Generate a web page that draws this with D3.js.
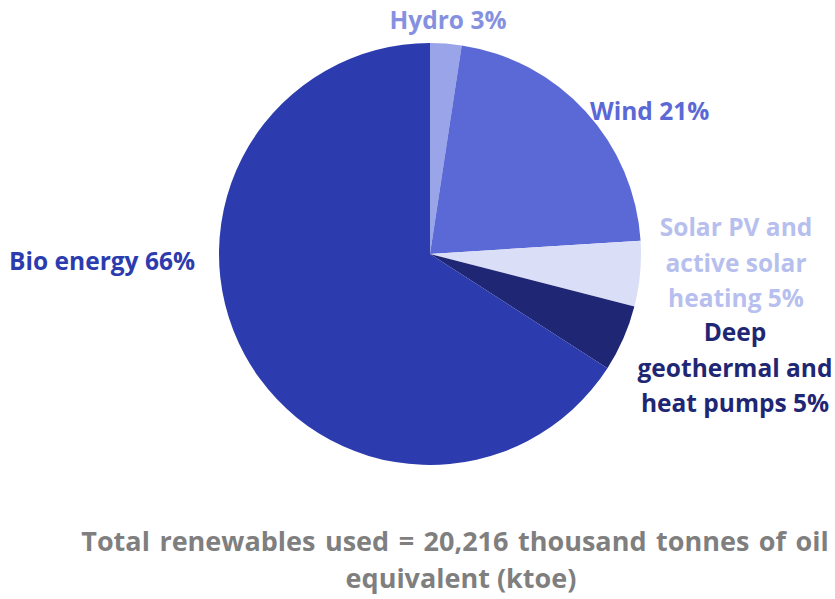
<!DOCTYPE html>
<html>
<head>
<meta charset="utf-8">
<script src="https://cdn.jsdelivr.net/npm/d3@7"></script>
<style>
  html, body { margin: 0; padding: 0; background: #ffffff; }
  svg { display: block; }
  text { font-family: "Open Sans", "Lato", sans-serif; font-weight: 700; }
</style>
</head>
<body>
<svg id="chart" width="835" height="599"></svg>
<script>
// Data (share of total renewables used, %)
const categories = ["Hydro", "Wind", "Solar PV and active solar heating", "Deep geothermal and heat pumps", "Bio energy"];
const values = [2.4, 21.6, 5.0, 5.1, 65.9];
const labelLines = [
  ["Hydro 3%"],
  ["Wind 21%"],
  ["Solar PV and", "active solar", "heating 5%"],
  ["Deep", "geothermal and", "heat pumps 5%"],
  ["Bio energy 66%"]
];
const sliceColors = ["#9aa4e8", "#5a69d5", "#dadef6", "#1f2774", "#2c3cae"];
const labelColors = ["#8591e0", "#5a69d5", "#b7bfee", "#1f2774", "#2c3cae"];
const footnote = ["Total renewables used = 20,216 thousand tonnes of oil", "equivalent (ktoe)"];

const svg = d3.select("#chart");
const cx = 430, cy = 254, r = 211;

const pie = d3.pie().sort(null).value(d => d)(values);
const arc = d3.arc().innerRadius(0).outerRadius(r);

const g = svg.append("g").attr("transform", `translate(${cx},${cy})`);
g.selectAll("path").data(pie).join("path")
  .attr("d", arc)
  .attr("fill", (d, i) => sliceColors[i]);

// Label anchors (positioned outside slices)
const labelPos = [
  { x: 448, y: 29, anchor: "middle" },
  { x: 590, y: 120, anchor: "start" },
  { x: 736, y: 236, anchor: "middle" },
  { x: 735, y: 341, anchor: "middle" },
  { x: 195, y: 270, anchor: "end" }
];
const lineH = 35.5;
labelLines.forEach((lines, i) => {
  const p = labelPos[i];
  const t = svg.append("text")
    .attr("x", p.x).attr("y", p.y)
    .attr("text-anchor", p.anchor)
    .attr("fill", labelColors[i])
    .style("font-size", "24.5px");
  lines.forEach((ln, j) => {
    t.append("tspan").attr("x", p.x).attr("y", p.y + j * lineH).text(ln);
  });
});

const ft = svg.append("text")
  .attr("text-anchor", "middle")
  .attr("fill", "#7f7f7f")
  .style("font-size", "27px");
footnote.forEach((ln, j) => {
  ft.append("tspan")
    .attr("x", j === 0 ? 455 : 461).attr("y", 551 + j * 36.5)
    .style("word-spacing", j === 0 ? "2.5px" : "0px")
    .text(ln);
});
</script>
</body>
</html>
